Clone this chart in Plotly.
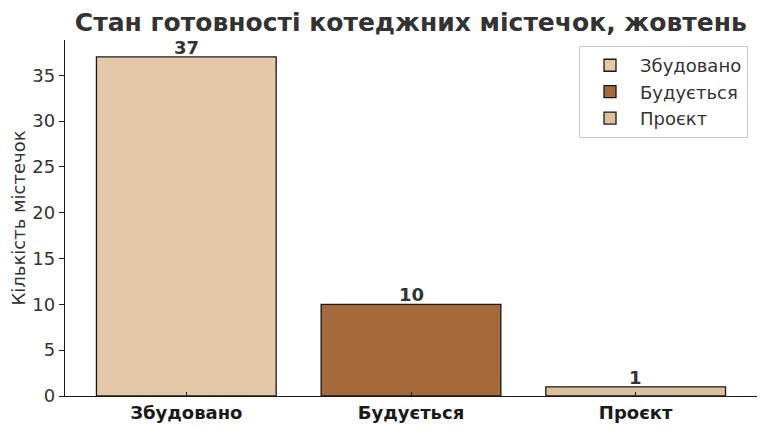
import plotly.graph_objects as go

categories = ["Збудовано", "Будується", "Проєкт"]
counts = [37, 10, 1]
colors = ["#E4C8A8", "#A56A3B", "#DDC09E"]

title = "Стан готовності котеджних містечок, жовтень"
y_title = "Кількість містечок"

fig = go.Figure()
for cat, val, col in zip(categories, counts, colors):
    fig.add_trace(go.Bar(
        x=[cat], y=[val], name=cat, width=0.8,
        marker=dict(color=col, line=dict(color="#1a1a1a", width=1.3)),
    ))
    # value label sitting right on top of the bar
    fig.add_annotation(
        x=cat, y=val, text=f"<b>{val}</b>", showarrow=False,
        yanchor="bottom", yshift=-3,
        font=dict(size=18, color="#333333"),
    )

# page body adds 8px around the figure, so keep it a bit smaller than the window
fig.update_layout(
    width=760, height=423,
    barmode="overlay",
    plot_bgcolor="white", paper_bgcolor="white",
    font=dict(family="DejaVu Sans", color="#333333"),
    margin=dict(l=57, r=11, t=32, b=35),
    title=dict(text=f"<b>{title}</b>", x=0.53, xanchor="center", y=0.967, yanchor="middle",
               font=dict(size=25, color="#333333")),
    legend=dict(x=0.987, y=0.983, xanchor="right", yanchor="top",
                bordercolor="#cccccc", borderwidth=1, bgcolor="white",
                itemwidth=50,
                font=dict(size=18, color="#333333")),
    showlegend=True,
)
fig.update_xaxes(
    range=[-0.54, 2.54], showline=True, linecolor="#1a1a1a", linewidth=1.3,
    ticks="inside", ticklen=4, tickcolor="#1a1a1a",
    tickfont=dict(size=18, color="#1a1a1a"),
    tickvals=categories, ticktext=[f"<b>{c}</b>" for c in categories],
    showgrid=False, automargin=False,
)
fig.update_yaxes(
    range=[0, 38.85], showline=True, linecolor="#1a1a1a", linewidth=1.3,
    ticks="outside", ticklen=5, tickcolor="#1a1a1a", dtick=5,
    tickfont=dict(size=18, color="#333333"),
    title=dict(text=y_title, font=dict(size=18, color="#333333"), standoff=8),
    showgrid=False, zeroline=False, automargin=False,
)

fig.write_html("out.html")
